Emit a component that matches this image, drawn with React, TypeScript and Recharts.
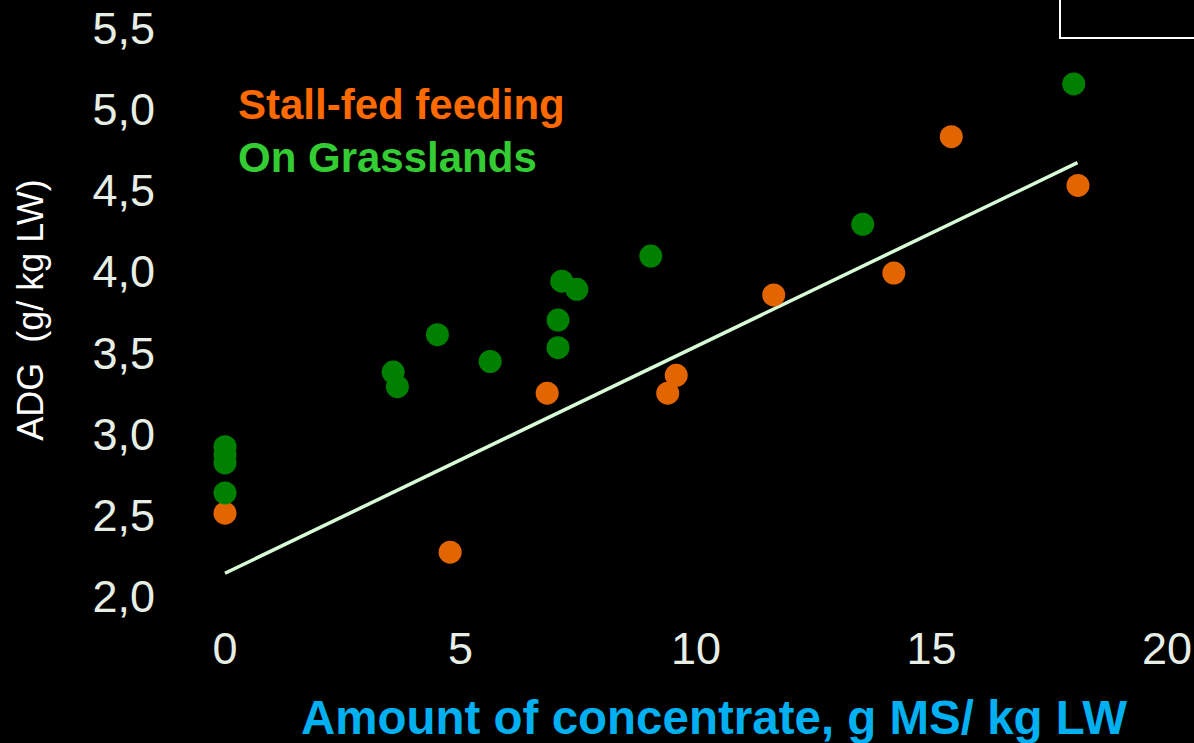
import { ScatterChart, Scatter, XAxis, YAxis, Legend, ReferenceLine } from "recharts";

// axis ticks
const xTicks = [0, 5, 10, 15, 20];
const yTicks = [2, 2.5, 3, 3.5, 4, 4.5, 5, 5.5];

// Stall-fed feeding (orange)
const stallX = [0, 4.78, 6.84, 9.4, 9.58, 11.65, 14.2, 15.42, 18.11];
const stallY = [2.51, 2.27, 3.25, 3.25, 3.36, 3.855, 3.99, 4.83, 4.53];

// On Grasslands (green)
const grassX = [0, 0, 0, 0, 3.57, 3.66, 4.51, 5.63, 7.07, 7.07, 7.15, 7.47, 9.04, 13.54, 18.02];
const grassY = [2.92, 2.87, 2.82, 2.635, 3.38, 3.29, 3.61, 3.445, 3.7, 3.53, 3.94, 3.89, 4.095, 4.29, 5.155];

// regression line end points
const fitX = [0, 18.1];
const fitY = [2.14, 4.67];

const seriesNames = ["Stall-fed feeding", "On Grasslands"];
const xTitle = "Amount of concentrate, g MS/ kg LW";
const yTitle = "ADG  (g/ kg LW)";

const FONT = "'Liberation Sans', Arial, sans-serif";
const TICK_COLOR = "#e6eee6";

const toPoints = (xs: number[], ys: number[]) => xs.map((x, i) => ({ x, y: ys[i] }));

const stallData = toPoints(stallX, stallY);
const grassData = toPoints(grassX, grassY);

const legendColors: Record<string, string> = {
  "Stall-fed feeding": "#ff6a00",
  "On Grasslands": "#33cc33",
};

const dot = (fill: string) => (props: any) =>
  <circle cx={props.cx} cy={props.cy} r={11.5} fill={fill} />;

function renderLegend(props: any) {
  const items = (props.payload || [])
    .filter((p: any) => legendColors[p.value])
    .sort((a: any, b: any) => seriesNames.indexOf(a.value) - seriesNames.indexOf(b.value));
  return (
    <div style={{ fontFamily: FONT, fontWeight: "bold", fontSize: 42, lineHeight: "53px" }}>
      {items.map((p: any) => (
        <div key={p.value} style={{ color: legendColors[p.value], whiteSpace: "nowrap" }}>
          {p.value}
        </div>
      ))}
    </div>
  );
}

function XTitle(props: any) {
  const { x, y, width } = props.viewBox;
  return (
    <text x={x + width / 2 + 18} y={y + 138} textAnchor="middle" fill="#00b0f0"
      fontSize={47.5} fontWeight="bold" fontFamily={FONT}>
      {xTitle}
    </text>
  );
}

function YTitle(props: any) {
  const { y, height } = props.viewBox;
  const cx = 43;
  const cy = y + height / 2 - 2;
  return (
    <text x={cx} y={cy} textAnchor="middle" fill="#ffffff" fontSize={36}
      fontFamily={FONT} transform={`rotate(-90, ${cx}, ${cy})`} style={{ whiteSpace: "pre" }}>
      {yTitle}
    </text>
  );
}

export default function App() {
  return (
    <div style={{ position: "fixed", left: 0, top: 0, width: 1194, height: 743, background: "#000", overflow: "hidden" }}>
      <ScatterChart width={1194} height={743} margin={{ top: 28, right: 27, bottom: 47, left: 0 }}>
        <XAxis
          type="number"
          dataKey="x"
          domain={[0, 20]}
          ticks={xTicks}
          interval={0}
          axisLine={false}
          tickLine={false}
          tickSize={0}
          tickMargin={36}
          height={100}
          tick={{ fontSize: 45, fill: TICK_COLOR, fontFamily: FONT }}
          label={{ content: XTitle }}
        />
        <YAxis
          type="number"
          dataKey="y"
          domain={[2, 5.5]}
          ticks={yTicks}
          interval={0}
          axisLine={false}
          tickLine={false}
          tickSize={0}
          tickMargin={70}
          width={225}
          tickFormatter={(v: number) => v.toFixed(1).replace(".", ",")}
          tick={{ fontSize: 45, fill: TICK_COLOR, fontFamily: FONT }}
          label={{ content: YTitle }}
        />
        <Legend
          layout="horizontal"
          verticalAlign="middle"
          align="center"
          content={renderLegend}
          wrapperStyle={{ top: 78, left: 238, width: "auto", height: "auto" }}
        />
        <Scatter name={seriesNames[0]} data={stallData} fill="#e36500" shape={dot("#e36500")} isAnimationActive={false} />
        <Scatter name={seriesNames[1]} data={grassData} fill="#008000" shape={dot("#008000")} isAnimationActive={false} />
        <ReferenceLine
          segment={[{ x: fitX[0], y: fitY[0] }, { x: fitX[1], y: fitY[1] }]}
          stroke="#d6fbd6"
          strokeWidth={3.5}
          ifOverflow="visible"
        />
      </ScatterChart>
      <div style={{ position: "absolute", left: 1059, top: -10, width: 200, height: 49, border: "2px solid #fff", boxSizing: "border-box" }} />
    </div>
  );
}
